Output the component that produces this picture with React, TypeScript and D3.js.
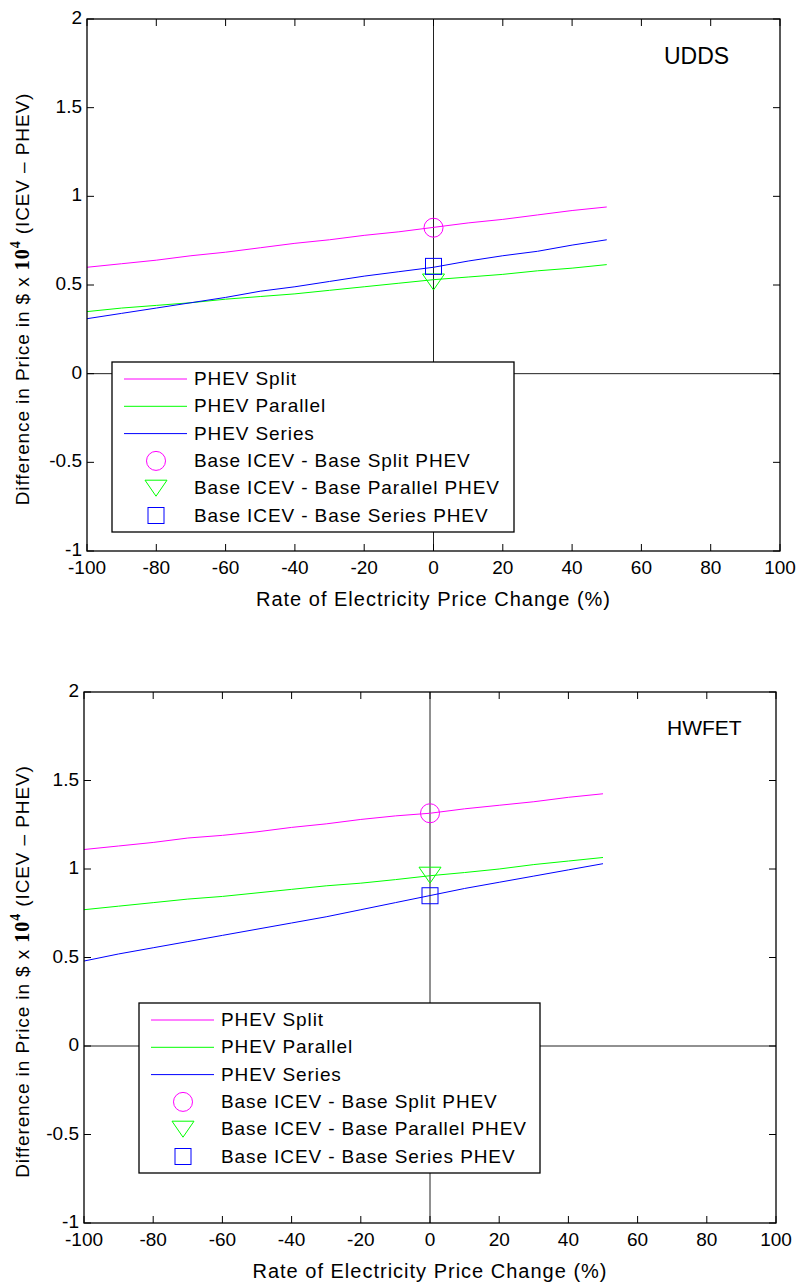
import React from 'react';
import * as d3 from 'd3';

const xValues = [-100, -90, -80, -70, -60, -50, -40, -30, -20, -10, 0, 10, 20, 30, 40, 50];

const uddsSplit = [0.60, 0.62, 0.64, 0.665, 0.685, 0.71, 0.735, 0.755, 0.78, 0.80, 0.825, 0.85, 0.87, 0.895, 0.92, 0.94];
const uddsParallel = [0.35, 0.37, 0.385, 0.40, 0.42, 0.435, 0.45, 0.47, 0.49, 0.51, 0.53, 0.545, 0.56, 0.58, 0.595, 0.615];
const uddsSeries = [0.31, 0.34, 0.37, 0.40, 0.43, 0.465, 0.49, 0.52, 0.55, 0.575, 0.60, 0.635, 0.665, 0.69, 0.725, 0.755];
const uddsBase = [0.823, 0.517, 0.605];

const hwfetSplit = [1.11, 1.13, 1.15, 1.175, 1.19, 1.21, 1.235, 1.255, 1.28, 1.30, 1.315, 1.34, 1.36, 1.38, 1.405, 1.425];
const hwfetParallel = [0.77, 0.79, 0.81, 0.83, 0.845, 0.865, 0.885, 0.905, 0.92, 0.94, 0.962, 0.98, 1.0, 1.025, 1.045, 1.065];
const hwfetSeries = [0.48, 0.52, 0.555, 0.59, 0.625, 0.66, 0.695, 0.73, 0.77, 0.81, 0.85, 0.89, 0.925, 0.96, 0.995, 1.03];
const hwfetBase = [1.315, 0.965, 0.849];

const baseX = 0;

const xTicks = [-100, -80, -60, -40, -20, 0, 20, 40, 60, 80, 100];
const yTicks = [-1, -0.5, 0, 0.5, 1, 1.5, 2];

const seriesColors = ['#ff00ff', '#00ff00', '#0000ff'];
const lineLabels = ['PHEV Split', 'PHEV Parallel', 'PHEV Series'];
const markerLabels = ['Base ICEV - Base Split PHEV', 'Base ICEV - Base Parallel PHEV', 'Base ICEV - Base Series PHEV'];
const markerShapes = ['circle', 'triangle', 'square'];

const xLabel = 'Rate of Electricity Price Change (%)';

const FONT = '"Liberation Sans", Arial, sans-serif';

function Marker({ shape, cx, cy, color }: { shape: string; cx: number; cy: number; color: string }) {
  if (shape === 'circle') {
    return <circle cx={cx} cy={cy} r={9.5} fill="none" stroke={color} strokeWidth={1} />;
  }
  if (shape === 'triangle') {
    const p = `M${cx - 11},${cy - 8}L${cx + 11},${cy - 8}L${cx},${cy + 8}Z`;
    return <path d={p} fill="none" stroke={color} strokeWidth={1} />;
  }
  return <rect x={cx - 8} y={cy - 8} width={16} height={16} fill="none" stroke={color} strokeWidth={1} />;
}

type PanelProps = {
  left: number; top: number; right: number; bottom: number;
  series: number[][]; bases: number[]; title: string;
  legendX: number; legendY: number; legendW: number;
  titleX: number; titleY: number; titleSize: number;
};

function Panel(p: PanelProps) {
  const x = d3.scaleLinear().domain([-100, 100]).range([p.left, p.right]);
  const y = d3.scaleLinear().domain([-1, 2]).range([p.bottom, p.top]);
  const line = d3.line<number>().x((_, i) => x(xValues[i])).y((d) => y(d));
  const tl = 7;
  const legendH = 170;
  const rowH = 27.3;
  const midY = (p.top + p.bottom) / 2;
  return (
    <g fontFamily={FONT} fill="#000">
      <line x1={p.left} x2={p.right} y1={y(0)} y2={y(0)} stroke="#222" strokeWidth={1} />
      <line x1={x(0)} x2={x(0)} y1={p.top} y2={p.bottom} stroke="#222" strokeWidth={1} />
      {p.series.map((s, i) => (
        <path key={i} d={line(s) || ''} fill="none" stroke={seriesColors[i]} strokeWidth={1} />
      ))}
      {p.bases.map((b, i) => (
        <Marker key={i} shape={markerShapes[i]} cx={x(baseX)} cy={y(b)} color={seriesColors[i]} />
      ))}
      <rect x={p.left} y={p.top} width={p.right - p.left} height={p.bottom - p.top} fill="none" stroke="#000" strokeWidth={1.3} />
      {xTicks.map((t) => (
        <g key={'x' + t}>
          <line x1={x(t)} x2={x(t)} y1={p.bottom} y2={p.bottom - tl} stroke="#000" strokeWidth={1} />
          <line x1={x(t)} x2={x(t)} y1={p.top} y2={p.top + tl} stroke="#000" strokeWidth={1} />
          <text x={x(t)} y={p.bottom + 18} fontSize={19} textAnchor="middle" dominantBaseline="middle">{t}</text>
        </g>
      ))}
      {yTicks.map((t) => (
        <g key={'y' + t}>
          <line x1={p.left} x2={p.left + tl} y1={y(t)} y2={y(t)} stroke="#000" strokeWidth={1} />
          <line x1={p.right} x2={p.right - tl} y1={y(t)} y2={y(t)} stroke="#000" strokeWidth={1} />
          <text x={p.left - 5} y={y(t)} fontSize={19} textAnchor="end" dominantBaseline="middle">{String(t)}</text>
        </g>
      ))}
      <text x={p.titleX} y={p.titleY} fontSize={p.titleSize}>{p.title}</text>
      <text x={(p.left + p.right) / 2} y={p.bottom + 50} fontSize={20} letterSpacing={1} textAnchor="middle" dominantBaseline="middle">{xLabel}</text>
      <text transform={`translate(24,${midY + 14}) rotate(-90)`} fontSize={19} letterSpacing={0.9} textAnchor="middle" dominantBaseline="middle">
        <tspan>Difference in Price in $ x </tspan>
        <tspan fontFamily='"Liberation Serif", "Times New Roman", serif' fontWeight="bold" fontSize={20}>10</tspan>
        <tspan fontFamily='"Liberation Serif", "Times New Roman", serif' fontWeight="bold" fontSize={14} dy={-7}>4</tspan>
        <tspan dy={7}> (ICEV – PHEV)</tspan>
      </text>
      <g>
        <rect x={p.legendX} y={p.legendY} width={p.legendW} height={legendH} fill="#fff" stroke="#000" strokeWidth={1.3} />
        {lineLabels.map((lab, i) => {
          const cy = p.legendY + 17 + i * rowH;
          return (
            <g key={'ll' + i}>
              <line x1={p.legendX + 12} x2={p.legendX + 75} y1={cy} y2={cy} stroke={seriesColors[i]} strokeWidth={1} />
              <text x={p.legendX + 82} y={cy + 1} fontSize={19} letterSpacing={0.9} dominantBaseline="middle">{lab}</text>
            </g>
          );
        })}
        {markerLabels.map((lab, i) => {
          const cy = p.legendY + 17 + (i + 3) * rowH;
          return (
            <g key={'ml' + i}>
              <Marker shape={markerShapes[i]} cx={p.legendX + 44} cy={cy} color={seriesColors[i]} />
              <text x={p.legendX + 82} y={cy + 1} fontSize={19} letterSpacing={0.9} dominantBaseline="middle">{lab}</text>
            </g>
          );
        })}
      </g>
    </g>
  );
}

export default function App() {
  return (
    <svg width={801} height={1285} style={{ position: 'absolute', left: 0, top: 0, background: '#fff' }}>
      <rect x={0} y={0} width={801} height={1285} fill="#fff" />
      <Panel left={87} top={19} right={780} bottom={551}
        series={[uddsSplit, uddsParallel, uddsSeries]} bases={uddsBase} title="UDDS"
        legendX={112} legendY={362} legendW={402} titleX={664} titleY={64} titleSize={23} />
      <Panel left={84} top={692} right={776} bottom={1223}
        series={[hwfetSplit, hwfetParallel, hwfetSeries]} bases={hwfetBase} title="HWFET"
        legendX={139} legendY={1003} legendW={401} titleX={667} titleY={735} titleSize={21} />
    </svg>
  );
}
